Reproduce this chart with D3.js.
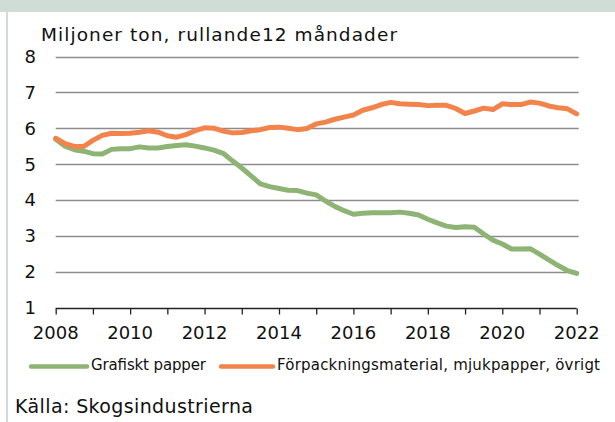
<!DOCTYPE html>
<html>
<head>
<meta charset="utf-8">
<script src="https://cdn.jsdelivr.net/npm/d3@7"></script>
<style>
  html, body { margin: 0; padding: 0; background: #fff; }
  svg { display: block; font-family: "DejaVu Sans", sans-serif; }
</style>
</head>
<body>
<svg id="chart" width="615" height="422"></svg>
<script>
// ---- data ----
const titleText = "Miljoner ton, rullande12 måndader";
const sourceText = "Källa: Skogsindustrierna";
const seriesNames = ["Grafiskt papper", "Förpackningsmaterial, mjukpapper, övrigt"];
const yTicks = [1, 2, 3, 4, 5, 6, 7, 8];
const xLabelYears = [2008, 2010, 2012, 2014, 2016, 2018, 2020, 2022];
const xTickYears = d3.range(2008, 2023);
const dates = [
  2008.00, 2008.25, 2008.50, 2008.75, 2009.00, 2009.25, 2009.50, 2009.75,
  2010.00, 2010.25, 2010.50, 2010.75, 2011.00, 2011.25, 2011.50, 2011.75,
  2012.00, 2012.25, 2012.50, 2012.75, 2013.00, 2013.25, 2013.50, 2013.75,
  2014.00, 2014.25, 2014.50, 2014.75, 2015.00, 2015.25, 2015.50, 2015.75,
  2016.00, 2016.25, 2016.50, 2016.75, 2017.00, 2017.25, 2017.50, 2017.75,
  2018.00, 2018.25, 2018.50, 2018.75, 2019.00, 2019.25, 2019.50, 2019.75,
  2020.00, 2020.25, 2020.50, 2020.75, 2021.00, 2021.25, 2021.50, 2021.75,
  2022.00
];
const grafiskt = [
  5.69, 5.50, 5.40, 5.36, 5.29, 5.28, 5.41, 5.43,
  5.43, 5.48, 5.45, 5.45, 5.49, 5.52, 5.54, 5.50,
  5.45, 5.39, 5.30, 5.09, 4.89, 4.67, 4.45, 4.37,
  4.32, 4.27, 4.26, 4.19, 4.14, 3.97, 3.82, 3.70,
  3.60, 3.63, 3.64, 3.64, 3.64, 3.66, 3.63, 3.58,
  3.46, 3.36, 3.27, 3.23, 3.25, 3.24, 3.05, 2.88,
  2.77, 2.63, 2.63, 2.64, 2.49, 2.33, 2.17, 2.03,
  1.95
];
const forpackning = [
  5.72, 5.57, 5.49, 5.49, 5.66, 5.80, 5.86, 5.85,
  5.86, 5.89, 5.93, 5.89, 5.79, 5.75, 5.82, 5.93,
  6.01, 6.00, 5.92, 5.87, 5.88, 5.93, 5.96, 6.02,
  6.03, 6.00, 5.96, 5.99, 6.12, 6.17, 6.25, 6.31,
  6.37, 6.50, 6.57, 6.66, 6.72, 6.68, 6.67, 6.66,
  6.63, 6.64, 6.64, 6.55, 6.41, 6.48, 6.56, 6.52,
  6.68, 6.66, 6.66, 6.73, 6.70, 6.62, 6.57, 6.54,
  6.40
];
const colors = ["#8db474", "#f2834a"];

// ---- layout ----
const svg = d3.select("#chart");
const W = 615, H = 422;
const x = d3.scaleLinear().domain([2008, 2022]).range([55.7, 576.7]);
const y = d3.scaleLinear().domain([1, 8]).range([307.5, 56.5]);

// frame: top band and left border
svg.append("rect").attr("x", 0).attr("y", 0).attr("width", W).attr("height", 12)
  .attr("fill", "#d0ddd6");
svg.append("rect").attr("x", 6).attr("y", 12).attr("width", 2).attr("height", H - 12)
  .attr("fill", "#d0ddd6");

// title
svg.append("text").attr("x", 41).attr("y", 41)
  .attr("font-size", 18.5).attr("fill", "#111")
  .attr("textLength", 356).attr("lengthAdjust", "spacing").text(titleText);

// gridlines
const gridTicks = yTicks.filter(v => v > 1);
svg.append("g").selectAll("line").data(gridTicks).join("line")
  .attr("x1", x(2008)).attr("x2", x(2022) + 2)
  .attr("y1", d => Math.round(y(d)) + 0.5).attr("y2", d => Math.round(y(d)) + 0.5)
  .attr("stroke", "#8c8c8c").attr("stroke-width", 1.3);

// y axis labels
svg.append("g").selectAll("text").data(yTicks).join("text")
  .attr("x", 36).attr("y", d => y(d) + 6.5)
  .attr("text-anchor", "end").attr("font-size", 18).attr("fill", "#111")
  .text(d => d);

// x axis with d3 axis
const xAxis = d3.axisBottom(x).tickValues(xTickYears).tickSize(6).tickSizeOuter(0)
  .tickFormat("");
const gx = svg.append("g").attr("transform", `translate(0,${Math.round(y(1)) + 0.5})`)
  .call(xAxis);
gx.select(".domain").attr("stroke", "#222").attr("stroke-width", 1.3)
  .attr("d", `M${x(2008)},0H${x(2022)}`);
gx.selectAll(".tick line").attr("stroke", "#222").attr("stroke-width", 1.3)
  .attr("y1", 0).attr("y2", 6);

svg.append("g").selectAll("text").data(xLabelYears).join("text")
  .attr("x", d => x(d)).attr("y", 339)
  .attr("text-anchor", "middle").attr("font-size", 18).attr("fill", "#111")
  .text(d => d);

// lines
const series = [grafiskt, forpackning];
const line = d3.line().x((d, i) => x(dates[i])).y(d => y(d)).curve(d3.curveLinear);
series.forEach((s, k) => {
  svg.append("path").datum(s).attr("d", line)
    .attr("fill", "none").attr("stroke", colors[k]).attr("stroke-width", 5)
    .attr("stroke-linejoin", "round").attr("stroke-linecap", "round");
});

// legend
const legendItems = [
  { x0: 31, x1: 87, tx: 91, len: 115 },
  { x0: 221, x1: 273, tx: 277, len: 323 }
];
legendItems.forEach((it, k) => {
  svg.append("line").attr("x1", it.x0).attr("x2", it.x1).attr("y1", 366.5).attr("y2", 366.5)
    .attr("stroke", colors[k]).attr("stroke-width", 4.5).attr("stroke-linecap", "round");
  svg.append("text").attr("x", it.tx).attr("y", 369.5).attr("font-size", 15)
    .attr("fill", "#111").attr("textLength", it.len).attr("lengthAdjust", "spacing")
    .text(seriesNames[k]);
});

// source
svg.append("text").attr("x", 15).attr("y", 413).attr("font-size", 19)
  .attr("fill", "#111").attr("textLength", 238).attr("lengthAdjust", "spacing")
  .text(sourceText);
</script>
</body>
</html>
